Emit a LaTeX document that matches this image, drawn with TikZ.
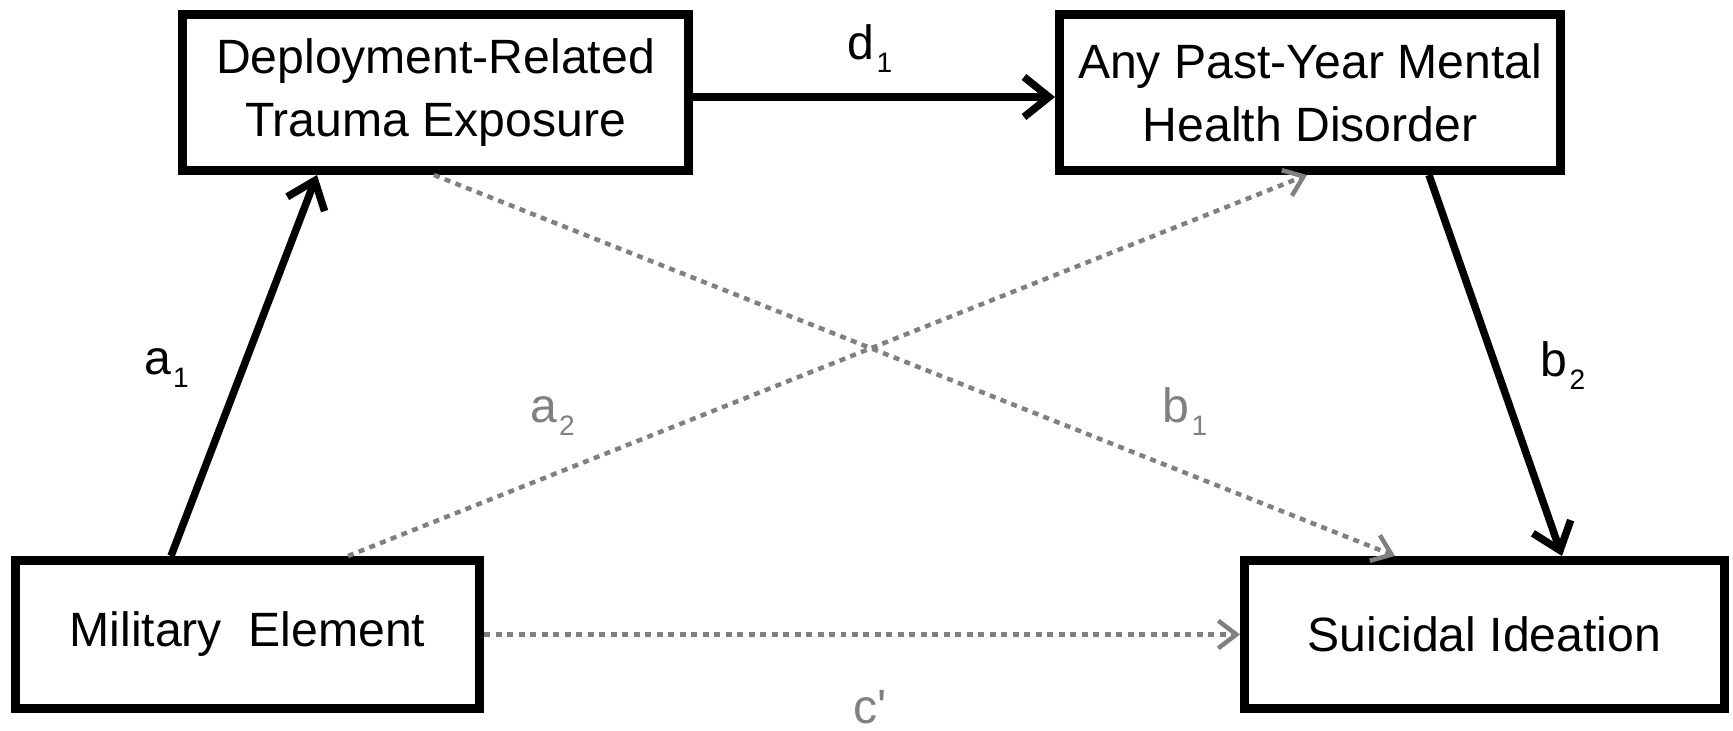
\documentclass[tikz,border=0pt]{standalone}
\usepackage{fontspec}
\setmainfont{Liberation Sans}
\usetikzlibrary{arrows.meta}
\definecolor{pathgray}{RGB}{128,128,128}
\newcommand{\lowidx}[1]{\kern0.04em\raisebox{-0.25em}{\fontsize{16pt}{16pt}\selectfont #1}}

\begin{document}
\begin{tikzpicture}[
  box/.style={draw=black,line width=0.18cm,fill=white,align=center,inner sep=0pt,
              font=\fontsize{27.4pt}{35.9pt}\selectfont},
  direct/.style={black,line width=0.15cm,
                 -{Straight Barb[length=0.5cm,width=0.8cm]}},
  indirect/.style={pathgray,line width=0.09cm,dash pattern=on 0.12cm off 0.11cm,
                   -{Straight Barb[length=0.36cm,width=0.55cm]}},
  plabel/.style={font=\fontsize{27.4pt}{32pt}\selectfont,inner sep=0pt,anchor=base},
  glabel/.style={plabel,text=pathgray}
]
\useasboundingbox (0,0) rectangle (34.66,14.60);

% The four measures, as boxes
\node[box,minimum width=10.12cm,minimum height=3.12cm] (trauma) at (8.71,12.75)
  {Deployment-Related\\Trauma Exposure};
\node[box,minimum width=10.02cm,minimum height=3.12cm] (mental) at (26.20,12.75)
  {Any Past-Year Mental\\Health Disorder};
\node[box,minimum width=9.28cm,minimum height=2.96cm] (military) at (4.95,1.91)
  {Military\ \ Element};
\node[box,minimum width=9.60cm,minimum height=2.96cm] (ideation) at (29.69,1.91)
  {Suicidal Ideation};

% Solid paths
\draw[direct] ([xshift=-1.53cm]military.north) -- ([xshift=-2.37cm]trauma.south);
\draw[direct] ([yshift=-0.09cm]trauma.east) -- ([yshift=-0.09cm]mental.west);
\draw[direct] ([xshift=2.38cm]mental.south) -- ([xshift=1.55cm]ideation.north);

% Dotted paths
\draw[indirect] ([xshift=2.01cm]military.north) -- ([xshift=-0.06cm]mental.south);
\draw[indirect] ([xshift=-0.03cm]trauma.south) -- ([xshift=-1.79cm]ideation.north);
\draw[indirect] (military.east) -- (ideation.west);

% Path labels
\node[plabel] (la1) at (3.33,7.10) {a\lowidx{1}};
\node[plabel] (ld1) at (17.40,13.40) {d\lowidx{1}};
\node[plabel] (lb2) at (31.26,7.06) {b\lowidx{2}};
\node[glabel] (la2) at (11.05,6.14) {a\lowidx{2}};
\node[glabel] (lb1) at (23.70,6.14) {b\lowidx{1}};
\node[glabel] (lc) at (17.40,0.14) {c\textquotesingle};
\end{tikzpicture}
\end{document}
